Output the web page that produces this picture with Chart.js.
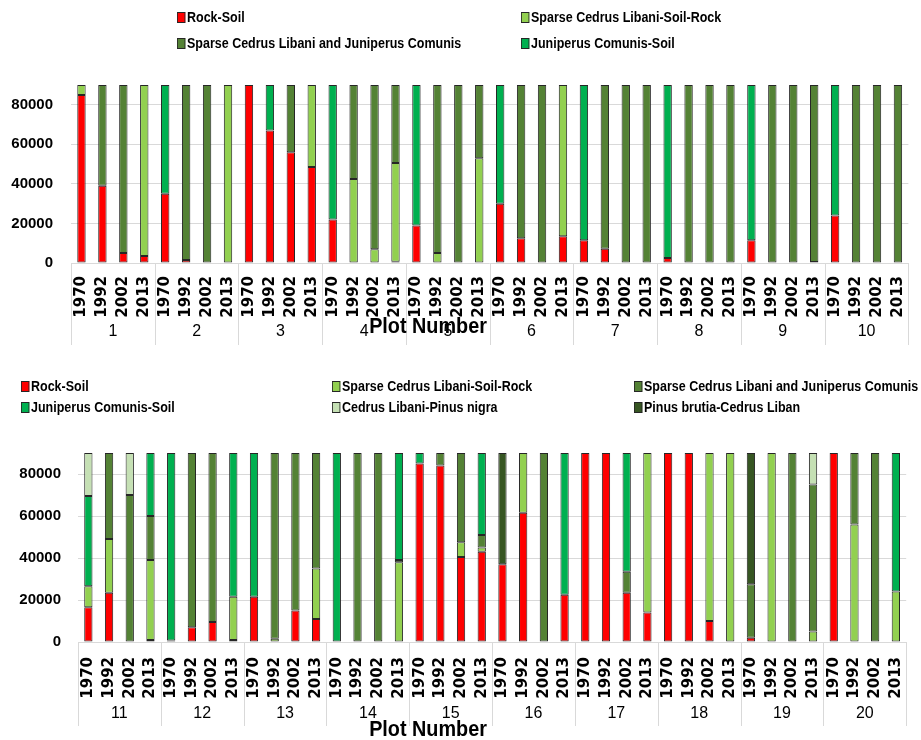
<!DOCTYPE html>
<html>
<head>
<meta charset="utf-8">
<title>Land cover per plot, 1970–2013</title>
<script src="https://cdn.jsdelivr.net/npm/chart.js@4.4.1/dist/chart.umd.min.js"></script>
<style>
  html, body { margin: 0; padding: 0; background: #fff; }
  body { width: 921px; height: 740px; position: relative; overflow: hidden;
         font-family: 'Liberation Sans', Arial, sans-serif; }
  .legend { position: absolute; left: 0; top: 0; width: 921px; height: 0; }
  .legend .item { position: absolute; white-space: nowrap; display: flex; align-items: center;
                  font-weight: bold; font-size: 15px; color: #000; line-height: 18px;
                  transform-origin: 0 50%; transform: translateY(-50%) scaleX(0.833); }
  .legend .sw { width: 8px; height: 9px; border: 1px solid #262626; margin-right: 2px; flex: none; }
  .panel { position: absolute; left: 0; width: 921px; }
</style>
</head>
<body>
<div class="panel" style="top:0;height:370px"><canvas id="chartTop"></canvas></div>
<div class="panel" style="top:372px;height:368px"><canvas id="chartBottom"></canvas></div>
<div id="legendTop" class="legend"></div>
<div id="legendBottom" class="legend"></div>
<script>
// ---- categories ----
const years = ['1970', '1992', '2002', '2013'];
const plotsTop = ['1', '2', '3', '4', '5', '6', '7', '8', '9', '10'];
const plotsBottom = ['11', '12', '13', '14', '15', '16', '17', '18', '19', '20'];
const yTicks = [0, 20000, 40000, 60000, 80000];
const axisTitle = 'Plot Number';

// ---- series names ----
const seriesNames = [
  'Rock-Soil',
  'Sparse Cedrus Libani-Soil-Rock',
  'Sparse Cedrus Libani and Juniperus Comunis',
  'Juniperus Comunis-Soil',
  'Cedrus Libani-Pinus nigra',
  'Pinus brutia-Cedrus Liban'
];

// ---- plots 1–10, four survey years each ----
const rockSoilTop =            [85000, 39000, 5000, 3500,  35000, 1500, 0, 0,      90000, 67000, 56000, 48500,  22000, 0, 0, 600,
                                19000, 0, 0, 0,            30000, 12500, 0, 13500, 11500, 7200, 0, 0,          2500, 0, 0, 0,
                                11500, 0, 0, 500,          24000, 0, 0, 0];
const sparseSoilRockTop =      [5000, 0, 0, 86500,         0, 0, 0, 90000,         0, 0, 0, 41500,              0, 42500, 7000, 50000,
                                0, 5000, 0, 53000,         0, 0, 0, 76500,         0, 0, 0, 0,                  0, 0, 0, 0,
                                0, 0, 0, 0,                0, 0, 0, 0];
const sparseCedrusJunTop =     [0, 51000, 85000, 0,        0, 88500, 90000, 0,     0, 0, 34000, 0,              0, 47500, 83000, 39400,
                                0, 85000, 90000, 37000,    0, 77500, 90000, 0,     0, 82800, 90000, 90000,      0, 90000, 90000, 90000,
                                0, 90000, 90000, 89500,    0, 90000, 90000, 90000];
const juniperusSoilTop =       [0, 0, 0, 0,                55000, 0, 0, 0,         0, 23000, 0, 0,              68000, 0, 0, 0,
                                71000, 0, 0, 0,            60000, 0, 0, 0,         78500, 0, 0, 0,              87500, 0, 0, 0,
                                78500, 0, 0, 0,            66000, 0, 0, 0];

// ---- plots 11–20, four survey years each ----
const rockSoilBottom =         [16500, 23500, 0, 1000,     700, 7000, 9500, 1000,  21500, 0, 15000, 11000,      0, 0, 0, 0,
                                85000, 84000, 40500, 43000, 37000, 61500, 0, 22500, 90000, 90000, 23500, 14000, 90000, 90000, 10000, 0,
                                2000, 0, 0, 0,             90000, 0, 0, 0];
const sparseSoilRockBottom =   [10000, 25500, 0, 38000,    0, 0, 0, 20500,        0, 1500, 0, 24000,           0, 0, 0, 38000,
                                0, 0, 7000, 2000,          0, 28500, 0, 0,         0, 0, 0, 76000,              0, 0, 80000, 90000,
                                0, 90000, 0, 5000,         0, 56000, 0, 24000];
const sparseCedrusJunBottom =  [0, 41000, 70000, 21000,    0, 83000, 80500, 0,     0, 88500, 75000, 55000,      0, 90000, 90000, 1000,
                                0, 6000, 42500, 6000,      0, 0, 90000, 0,         0, 0, 10000, 0,              0, 0, 0, 0,
                                25500, 0, 90000, 70000,    0, 34000, 90000, 0];
const juniperusSoilBottom =    [43000, 0, 0, 30000,        89300, 0, 0, 68500,     68500, 0, 0, 0,              90000, 0, 0, 51000,
                                5000, 0, 0, 39000,         0, 0, 0, 67500,         0, 0, 56500, 0,              0, 0, 0, 0,
                                0, 0, 0, 0,                0, 0, 0, 66000];
const cedrusPinusBottom =      [20500, 0, 20000, 0,        0, 0, 0, 0,             0, 0, 0, 0,                  0, 0, 0, 0,
                                0, 0, 0, 0,                0, 0, 0, 0,             0, 0, 0, 0,                  0, 0, 0, 0,
                                0, 0, 0, 15000,            0, 0, 0, 0];
const pinusBrutiaBottom =      [0, 0, 0, 0,                0, 0, 0, 0,             0, 0, 0, 0,                  0, 0, 0, 0,
                                0, 0, 0, 0,                53000, 0, 0, 0,         0, 0, 0, 0,                  0, 0, 0, 0,
                                62500, 0, 0, 0,            0, 0, 0, 0];

// ---- styling ----
const palette = ['#ff0000', '#92d050', '#548235', '#00b050', '#c5e0b4', '#375623'];
const gridColor = '#d9d9d9';
const barEdge = '#262626';
const sans = "'Liberation Sans', Arial, sans-serif";

function makeDatasets(seriesList) {
  return seriesList.map((values, i) => ({
    label: seriesNames[i],
    data: values.map(v => (v === 0 ? null : v)),
    backgroundColor: palette[i],
    borderColor: barEdge,
    borderWidth: 1,
    borderSkipped: false,
    barPercentage: 0.4,
    categoryPercentage: 1.0
  }));
}

// vertical separators between plot groups, and the condensed axis title
const groupFrame = {
  id: 'groupFrame',
  afterDraw(chart, args, opts) {
    const { ctx, chartArea } = chart;
    const x = chart.scales.x;
    const n = chart.data.labels.length;
    const step = (x.getPixelForValue(n - 1) - x.getPixelForValue(0)) / (n - 1);
    ctx.save();
    ctx.strokeStyle = gridColor;
    ctx.lineWidth = 1;
    for (let i = 0; i <= n; i += years.length) {
      const px = Math.round(x.getPixelForValue(0) + (i - 0.5) * step) + 0.5;
      ctx.beginPath();
      ctx.moveTo(px, chartArea.bottom);
      ctx.lineTo(px, chartArea.bottom + opts.depth);
      ctx.stroke();
    }
    ctx.fillStyle = '#000';
    ctx.font = 'bold 22px ' + sans;
    ctx.textAlign = 'center';
    ctx.textBaseline = 'middle';
    ctx.translate(opts.titleX, opts.titleY);
    ctx.scale(0.9, 1);
    ctx.fillText(axisTitle, 0, 0);
    ctx.restore();
  }
};

function buildChart(canvasId, plots, seriesList, geom) {
  const labels = plots.flatMap(() => years);
  return new Chart(document.getElementById(canvasId), {
    type: 'bar',
    data: { labels, datasets: makeDatasets(seriesList) },
    plugins: [groupFrame],
    options: {
      responsive: true,
      maintainAspectRatio: false,
      animation: false,
      layout: { padding: geom.padding },
      plugins: {
        legend: { display: false },
        tooltip: { enabled: false },
        groupFrame: { depth: geom.depth, titleX: geom.titleX, titleY: geom.titleY }
      },
      scales: {
        x: {
          stacked: true,
          grid: { display: false },
          border: { display: false },
          ticks: {
            autoSkip: false, minRotation: 90, maxRotation: 90, padding: geom.yearPad,
            color: '#000', font: { family: 'DejaVu Sans', weight: 'bold', size: 15 }
          },
          afterFit(s) { s.height = geom.yearH; }
        },
        x2: {
          type: 'category',
          labels: plots,
          position: 'bottom',
          offset: true,
          grid: { display: false, drawTicks: false },
          border: { display: false },
          ticks: { padding: 4, color: '#000', font: { family: sans, size: 16 } },
          afterFit(s) { s.height = geom.groupH; }
        },
        y: {
          stacked: true,
          min: 0, max: 90000,
          border: { display: false },
          grid: { color: gridColor, drawTicks: false, lineWidth: 1 },
          afterBuildTicks(s) { s.ticks = yTicks.map(v => ({ value: v })); },
          ticks: {
            padding: geom.yPad, color: '#000',
            font: { family: sans, weight: 'bold', size: 15 },
            callback: v => String(v)
          },
          afterFit(s) { s.width = geom.yW; }
        }
      }
    }
  });
}

const topChart = buildChart('chartTop', plotsTop,
  [rockSoilTop, sparseSoilRockTop, sparseCedrusJunTop, juniperusSoilTop],
  { padding: { top: 85, right: 5, bottom: 25, left: 0 }, yearH: 55, groupH: 27, yW: 71, yPad: 18,
    yearPad: 5, depth: 82, titleX: 428, titleY: 327 });

const bottomChart = buildChart('chartBottom', plotsBottom,
  [rockSoilBottom, sparseSoilRockBottom, sparseCedrusJunBottom, juniperusSoilBottom, cedrusPinusBottom, pinusBrutiaBottom],
  { padding: { top: 81, right: 11, bottom: 16, left: 0 }, yearH: 58, groupH: 24, yW: 78, yPad: 17,
    yearPad: 7, depth: 84, titleX: 428, titleY: 358 });

// HTML legends built from each chart's datasets
function buildLegend(el, chart, cols, rowsY) {
  chart.data.datasets.forEach((ds, i) => {
    const item = document.createElement('div');
    item.className = 'item';
    item.style.left = cols[i % cols.length] + 'px';
    item.style.top = rowsY[Math.floor(i / cols.length)] + 'px';
    const sw = document.createElement('span');
    sw.className = 'sw';
    sw.style.background = ds.backgroundColor;
    const tx = document.createElement('span');
    tx.textContent = ds.label;
    item.appendChild(sw);
    item.appendChild(tx);
    el.appendChild(item);
  });
}
buildLegend(document.getElementById('legendTop'), topChart, [177, 521], [17, 43]);
buildLegend(document.getElementById('legendBottom'), bottomChart, [21, 332, 634], [386, 407]);
</script>
</body>
</html>
